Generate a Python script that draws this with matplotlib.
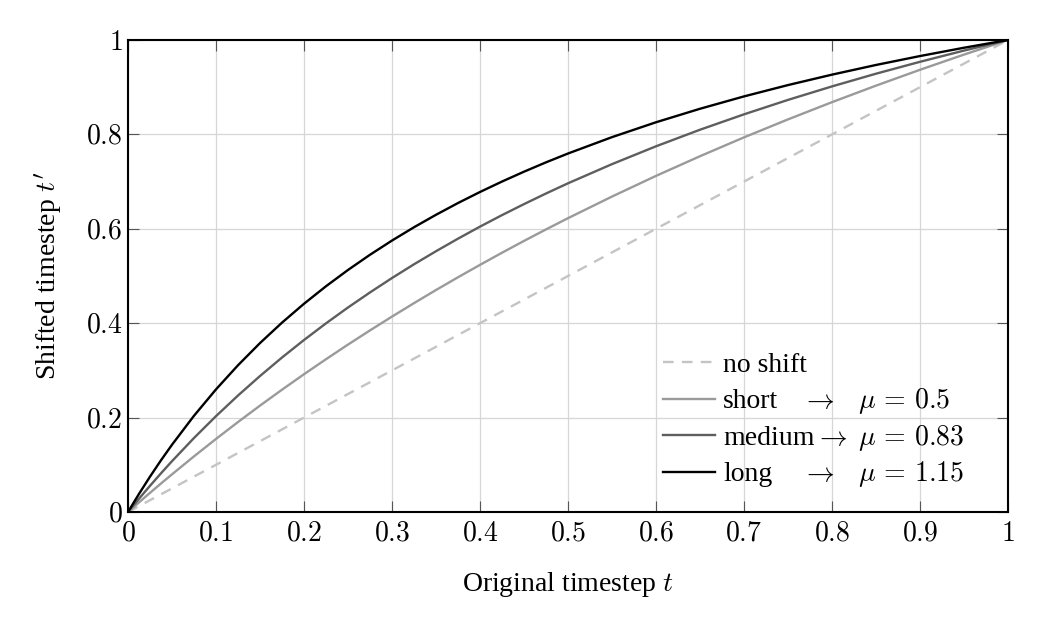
import matplotlib
matplotlib.use("Agg")
import matplotlib.pyplot as plt
from matplotlib.ticker import FixedLocator, FixedFormatter

plt.rcParams['font.family'] = ['Liberation Serif', 'DejaVu Serif']
plt.rcParams['mathtext.fontset'] = 'cm'

# Data
t = [0.0, 0.0125, 0.025, 0.0375, 0.05, 0.075, 0.1, 0.125, 0.15, 0.175, 0.2,
     0.225, 0.25, 0.275, 0.3, 0.325, 0.35, 0.375, 0.4, 0.425, 0.45, 0.475, 0.5,
     0.55, 0.6, 0.65, 0.7, 0.75, 0.8, 0.85, 0.9, 0.95, 1.0]
no_shift = [0.0, 0.0125, 0.025, 0.0375, 0.05, 0.075, 0.1, 0.125, 0.15, 0.175, 0.2,
            0.225, 0.25, 0.275, 0.3, 0.325, 0.35, 0.375, 0.4, 0.425, 0.45, 0.475, 0.5,
            0.55, 0.6, 0.65, 0.7, 0.75, 0.8, 0.85, 0.9, 0.95, 1.0]
short = [0.0, 0.0204, 0.0406, 0.0604, 0.0798, 0.1179, 0.1548, 0.1906, 0.2254, 0.2591, 0.2919,
         0.3237, 0.3547, 0.3848, 0.4140, 0.4425, 0.4703, 0.4973, 0.5236, 0.5493, 0.5743, 0.5987, 0.6225,
         0.6683, 0.7121, 0.7538, 0.7937, 0.8318, 0.8683, 0.9033, 0.9369, 0.9691, 1.0]
medium = [0.0, 0.0282, 0.0555, 0.0820, 0.1077, 0.1568, 0.2031, 0.2468, 0.2881, 0.3273, 0.3644,
          0.3997, 0.4333, 0.4652, 0.4957, 0.5248, 0.5525, 0.5791, 0.6046, 0.6290, 0.6523, 0.6748, 0.6964,
          0.7370, 0.7748, 0.8099, 0.8425, 0.8731, 0.9017, 0.9286, 0.9538, 0.9776, 1.0]
long_ = [0.0, 0.0384, 0.0749, 0.1096, 0.1425, 0.2039, 0.2598, 0.3109, 0.3579, 0.4012, 0.4412,
         0.4783, 0.5128, 0.5450, 0.5751, 0.6033, 0.6297, 0.6546, 0.6780, 0.7001, 0.7210, 0.7408, 0.7595,
         0.7942, 0.8257, 0.8543, 0.8805, 0.9045, 0.9266, 0.9471, 0.9660, 0.9836, 1.0]

names = ["no shift", "short", "medium", "long"]
mu_labels = [None, r"$\mu\,=\,0.5$", r"$\mu\,=\,0.83$", r"$\mu\,=\,1.15$"]

x_ticks = [0, 0.1, 0.2, 0.3, 0.4, 0.5, 0.6, 0.7, 0.8, 0.9, 1]
x_tick_labels = ["$0$", "$0.1$", "$0.2$", "$0.3$", "$0.4$", "$0.5$",
                 "$0.6$", "$0.7$", "$0.8$", "$0.9$", "$1$"]
y_ticks = [0, 0.2, 0.4, 0.6, 0.8, 1]
y_tick_labels = ["$0$", "$0.2$", "$0.4$", "$0.6$", "$0.8$", "$1$"]

FS = 20

fig = plt.figure(figsize=(10.44, 6.19), dpi=100)
ax = fig.add_axes([128/1044, 1 - 512/619, 880/1044, 472/619])

l0, = ax.plot(t, no_shift, color='#c4c4c4', lw=1.7, ls=(0, (4.5, 3.5)))
l1, = ax.plot(t, short, color='#9a9a9a', lw=1.7)
l2, = ax.plot(t, medium, color='#5e5e5e', lw=1.7)
l3, = ax.plot(t, long_, color='#000000', lw=1.7)

ax.set_xlim(0, 1)
ax.set_ylim(0, 1)
ax.xaxis.set_major_locator(FixedLocator(x_ticks))
ax.xaxis.set_major_formatter(FixedFormatter(x_tick_labels))
ax.yaxis.set_major_locator(FixedLocator(y_ticks))
ax.yaxis.set_major_formatter(FixedFormatter(y_tick_labels))
ax.grid(True, color='#d6d6d6', lw=0.9)
ax.set_axisbelow(True)
ax.tick_params(direction='in', top=True, right=True, length=8, width=0.8,
               color='#555555', labelsize=FS)
ax.tick_params(axis='x', pad=7)
ax.tick_params(axis='y', pad=4)
for s in ax.spines.values():
    s.set_linewidth(1.5)
    s.set_color('black')

ax.set_xlabel("Original timestep $t$", fontsize=FS, labelpad=17)
ax.set_ylabel("Shifted timestep $t'$", fontsize=FS, labelpad=15)

leg = ax.legend([l0, l1, l2, l3], names, loc='lower left',
                bbox_to_anchor=(0.608, 0.052), frameon=False, fontsize=FS,
                handlelength=1.87, handletextpad=0.29, labelspacing=0.40,
                borderaxespad=0, borderpad=0)

fig.canvas.draw()
arrow_x = [None, 0.785, 0.799, 0.785]
mu_x = [None, 0.8295, 0.829, 0.8295]
inv = ax.transAxes.inverted()
for txt, ax_a, ax_m, mul in zip(leg.get_texts(), arrow_x, mu_x, mu_labels):
    if mul is None:
        continue
    base = txt.get_transform().transform(txt.get_position())
    yb = inv.transform(base)[1]
    ax.text(ax_a, yb, r"$\rightarrow$", transform=ax.transAxes, fontsize=FS,
            ha='center', va='baseline')
    ax.text(ax_m, yb, mul, transform=ax.transAxes, fontsize=FS,
            ha='left', va='baseline')

fig.savefig("out.png", dpi=100)
